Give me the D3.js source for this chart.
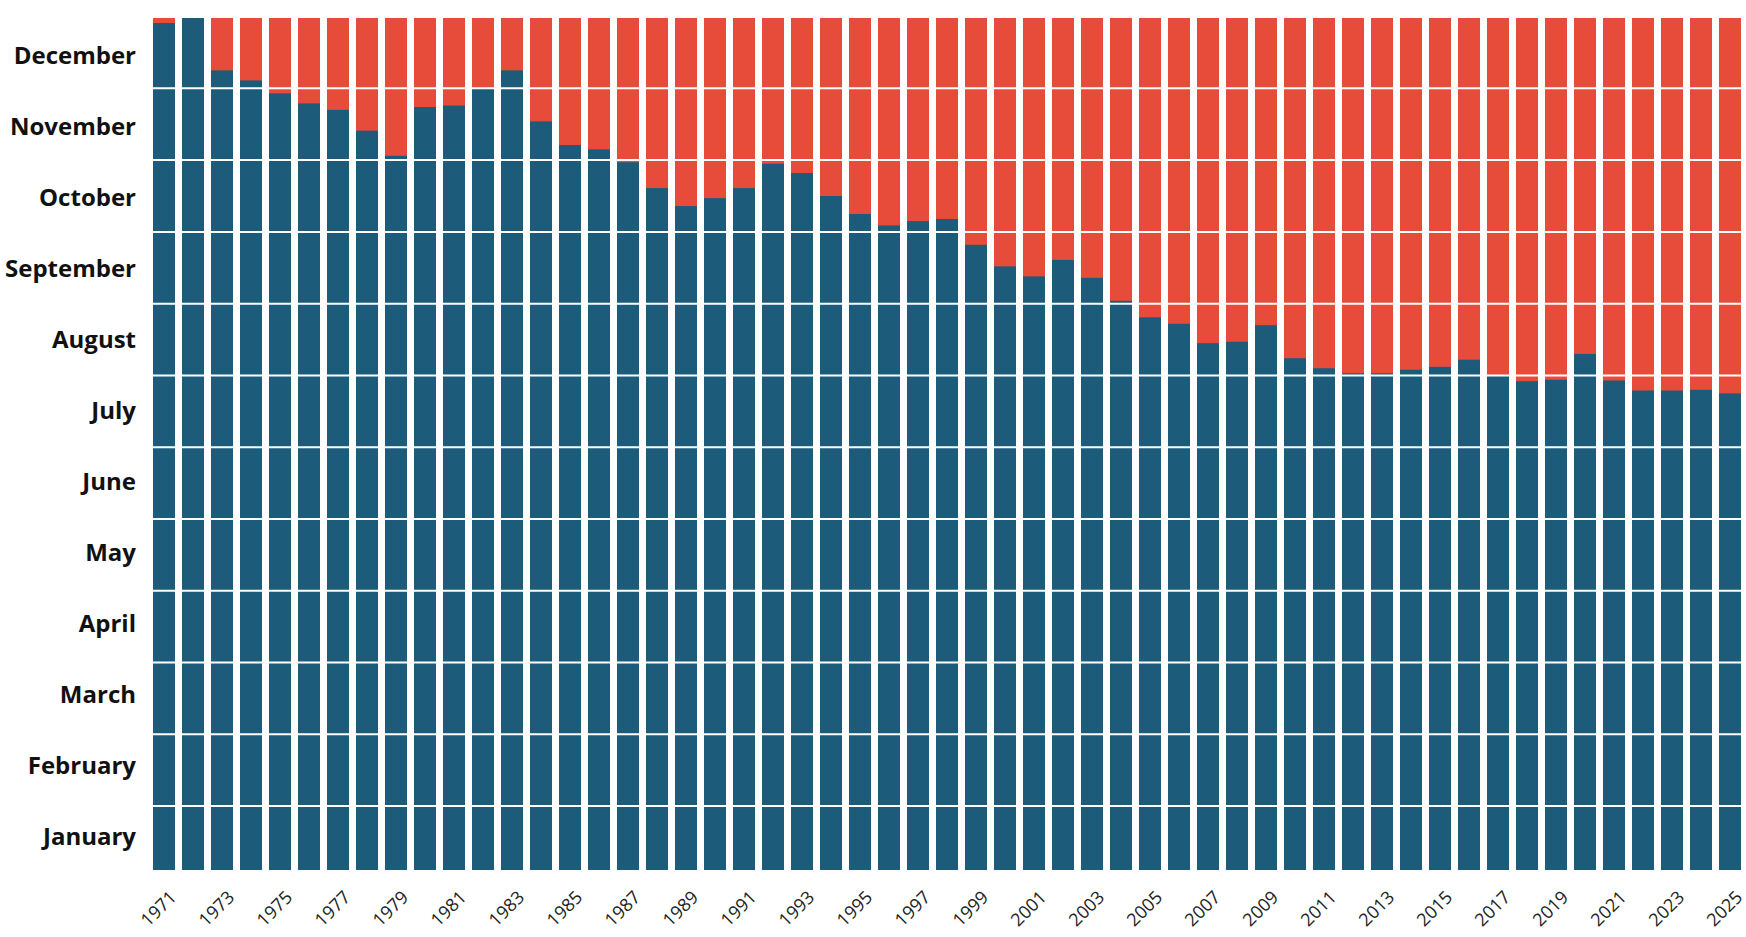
<!DOCTYPE html>
<meta charset="utf-8">
<style>
  body {
    margin: 0;
    background: #fff;
  }
  .month-label {
    font-family: "Open Sans", sans-serif;
    font-weight: 700;
    font-size: 24px;
    fill: #111;
    text-anchor: end;
  }
  .year-label {
    font-family: "Open Sans", sans-serif;
    font-size: 18px;
    fill: #222;
    text-anchor: end;
  }
</style>
<script src="https://cdn.jsdelivr.net/npm/d3@7"></script>
<body>
<script>

  var w = 1746;
  var h = 937;

  var years = [1971, 1972, 1973, 1974, 1975, 1976, 1977, 1978, 1979, 1980,
               1981, 1982, 1983, 1984, 1985, 1986, 1987, 1988, 1989, 1990,
               1991, 1992, 1993, 1994, 1995, 1996, 1997, 1998, 1999, 2000,
               2001, 2002, 2003, 2004, 2005, 2006, 2007, 2008, 2009, 2010,
               2011, 2012, 2013, 2014, 2015, 2016, 2017, 2018, 2019, 2020,
               2021, 2022, 2023, 2024, 2025];

  // how far into the year the blue part reaches, in months
  var reach = [11.91, 12.00, 11.25, 11.11, 10.93, 10.79, 10.70, 10.41, 10.06, 10.74,
               10.76, 10.99, 11.25, 10.54, 10.21, 10.15, 9.97, 9.61, 9.36, 9.47,
               9.61, 9.95, 9.82, 9.50, 9.25, 9.09, 9.15, 9.18, 8.82, 8.52,
               8.38, 8.61, 8.36, 8.04, 7.81, 7.72, 7.45, 7.47, 7.70, 7.24,
               7.10, 7.03, 7.03, 7.08, 7.12, 7.22, 7.00, 6.92, 6.94, 7.30,
               6.93, 6.79, 6.79, 6.80, 6.75];

  var months = ["January", "February", "March", "April", "May", "June",
                "July", "August", "September", "October", "November", "December"];

  var monthBreaks = [1, 2, 3, 4, 5, 6, 7, 8, 9, 10, 11];

  var yearTicks = [1971, 1973, 1975, 1977, 1979, 1981, 1983, 1985, 1987, 1989,
                   1991, 1993, 1995, 1997, 1999, 2001, 2003, 2005, 2007, 2009,
                   2011, 2013, 2015, 2017, 2019, 2021, 2023, 2025];

  var data = years.map(function (d, i) { return { year: d, value: reach[i] }; });

  var svg = d3.select("body").append("svg")
              .attr("width", w)
              .attr("height", h);

  var x = d3.scaleBand()
            .domain(years)
            .range([153, 1741])
            .paddingInner(7 / 29)
            .paddingOuter(0);

  var y = d3.scaleLinear()
            .domain([0.11, 11.98])
            .range([870, 18]);

  var yLabel = d3.scaleBand()
                 .domain(months)
                 .range([870, 18]);

  var yMax = y.domain()[1];
  var yMin = y.domain()[0];

  // red for the whole column, blue drawn over it
  svg.selectAll("rect.rest")
     .data(data)
     .enter()
     .append("rect")
     .attr("class", "rest")
     .attr("x", function (d) { return x(d.year); })
     .attr("width", x.bandwidth())
     .attr("y", y(yMax))
     .attr("height", y(yMin) - y(yMax))
     .attr("fill", "#e74c3b");

  svg.selectAll("rect.reach")
     .data(data)
     .enter()
     .append("rect")
     .attr("class", "reach")
     .attr("x", function (d) { return x(d.year); })
     .attr("width", x.bandwidth())
     .attr("y", function (d) { return y(Math.min(d.value, yMax)); })
     .attr("height", function (d) { return y(yMin) - y(Math.min(d.value, yMax)); })
     .attr("fill", "#1c5b7a");

  svg.selectAll("line.month")
     .data(monthBreaks)
     .enter()
     .append("line")
     .attr("class", "month")
     .attr("x1", x.range()[0])
     .attr("x2", x.range()[1])
     .attr("y1", function (d) { return y(d); })
     .attr("y2", function (d) { return y(d); })
     .attr("stroke", "#fff")
     .attr("stroke-width", 2);

  svg.selectAll("text.month-label")
     .data(months)
     .enter()
     .append("text")
     .attr("class", "month-label")
     .attr("x", 136)
     .attr("y", function (d) { return yLabel(d) + yLabel.bandwidth() / 2; })
     .attr("dy", "0.42em")
     .text(function (d) { return d; });

  svg.selectAll("text.year-label")
     .data(yearTicks)
     .enter()
     .append("text")
     .attr("class", "year-label")
     .attr("transform", function (d) {
       return "translate(" + (x(d) + x.bandwidth() / 2 + 9) + ",894) rotate(-45)";
     })
     .attr("dy", "0.35em")
     .text(function (d) { return d; });

</script>
</body>
